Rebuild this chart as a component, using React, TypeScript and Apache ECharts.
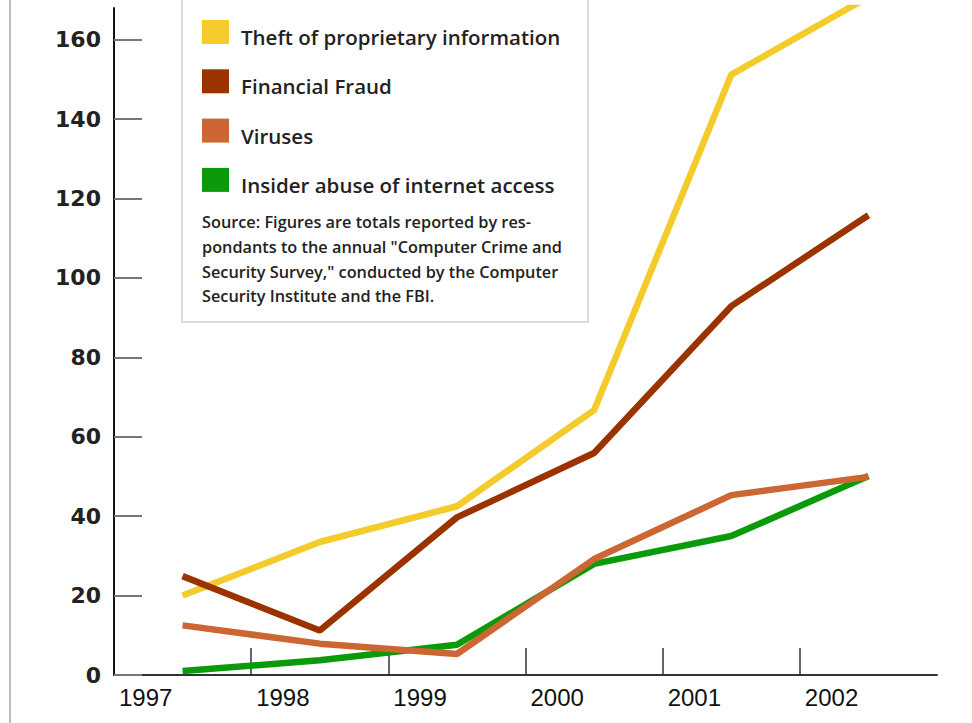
import React, { useEffect, useRef } from "react";
import * as echarts from "echarts";

const years = ["1997", "1998", "1999", "2000", "2001", "2002"];
const theft = [20.0, 33.5, 42.5, 66.7, 151.2, 170.8];
const fraud = [24.9, 11.2, 39.7, 55.9, 92.9, 115.8];
const viruses = [12.5, 7.9, 5.3, 29.2, 45.3, 49.9];
const insider = [1.0, 3.7, 7.6, 28.0, 35.0, 50.1];
const yTicks = [0, 20, 40, 60, 80, 100, 120, 140, 160];
const seriesNames = [
  "Theft of proprietary information",
  "Financial Fraud",
  "Viruses",
  "Insider abuse of internet access",
];
const sourceLines = [
  "Source: Figures are totals reported by res-",
  "pondants to the annual \"Computer Crime and",
  "Security Survey,\" conducted by the Computer",
  "Security Institute and the FBI.",
];

const colors = ["#F3CC2B", "#9A3300", "#CC6633", "#0A9A0A"];

export default function App() {
  const ref = useRef<HTMLDivElement>(null);
  useEffect(() => {
    if (!ref.current) return;
    const chart = echarts.init(ref.current, null, { renderer: "svg" });
    const toPairs = (arr: number[]) => arr.map((v, i) => [i + 0.5, v]);
    const allValues = [theft, fraud, viruses, insider];
    const zs = [2, 3, 4, 2];
    chart.setOption({
      animation: false,
      backgroundColor: "#ffffff",
      grid: { left: 114, right: 35, top: 8, bottom: 48, containLabel: false },
      legend: {
        data: seriesNames,
        orient: "vertical",
        left: 202,
        top: 20,
        icon: "rect",
        itemWidth: 27,
        itemHeight: 24,
        itemGap: 21.8,
        padding: 0,
        selectedMode: false,
        z: 10,
        formatter: (name: string) => `{t|${name}}`,
        textStyle: {
          fontFamily: "'Open Sans', sans-serif",
          fontWeight: 600,
          fontSize: 20.5,
          color: "#222",
          rich: {
            t: {
              fontFamily: "'Open Sans', sans-serif",
              fontWeight: 600,
              fontSize: 20.5,
              color: "#222",
              padding: [10, 0, 0, 7],
            },
          },
        },
      },
      xAxis: {
        type: "value",
        min: 0,
        max: 6,
        interval: 1,
        splitLine: { show: false },
        axisLine: { show: true, lineStyle: { color: "#333", width: 2 } },
        axisTick: {
          show: true,
          inside: true,
          length: 27,
          customValues: [1, 2, 3, 4, 5],
          lineStyle: { color: "#333", width: 1.5 },
        },
        axisLabel: {
          customValues: [0, 1, 2, 3, 4, 5],
          formatter: (v: number) => years[Math.round(v)] ?? "",
          align: "left",
          padding: [0, 0, 0, 5],
          margin: 10,
          fontFamily: "'Liberation Sans Narrow', 'Liberation Sans', sans-serif",
          fontSize: 24,
          color: "#111",
        },
      },
      yAxis: {
        type: "value",
        min: 0,
        max: 168,
        interval: 20,
        splitLine: { show: false },
        axisLine: { show: true, lineStyle: { color: "#111", width: 2 } },
        axisTick: {
          show: true,
          inside: true,
          length: 28,
          customValues: yTicks,
          lineStyle: { color: "#777", width: 2 },
        },
        axisLabel: {
          customValues: yTicks,
          margin: 13,
          fontFamily: "'DejaVu Sans', sans-serif",
          fontWeight: "bold",
          fontSize: 22,
          color: "#222",
        },
      },
      graphic: [
        {
          type: "line",
          shape: { x1: 10, y1: 0, x2: 10, y2: 723 },
          style: { stroke: "#bdbdbd", lineWidth: 2 },
          z: 0,
        },
        {
          type: "rect",
          shape: { x: 182, y: -5, width: 406, height: 327 },
          style: { fill: "#ffffff", stroke: "#cfcfcf", lineWidth: 1.5 },
          z: 1,
        },
        {
          type: "text",
          left: 202,
          top: 210,
          z: 10,
          style: {
            text: sourceLines.join("\n"),
            fontFamily: "'Open Sans', sans-serif",
            fontWeight: 600,
            fontSize: 16.3,
            lineHeight: 24.7,
            fill: "#222",
          },
        },
      ],
      series: allValues.map((arr, i) => ({
        name: seriesNames[i],
        type: "line",
        data: toPairs(arr),
        symbol: "none",
        z: zs[i],
        color: colors[i],
        lineStyle: { color: colors[i], width: 6.5 },
        clip: true,
      })),
    });
    return () => chart.dispose();
  }, []);
  return (
    <div
      ref={ref}
      style={{ position: "fixed", left: 0, top: 0, width: 972, height: 723, background: "#fff" }}
    />
  );
}
